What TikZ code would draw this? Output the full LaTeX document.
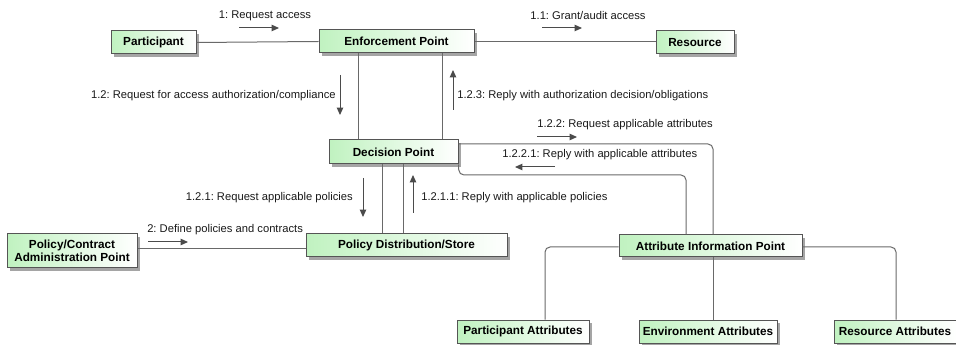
\documentclass[tikz,border=0pt]{standalone}
\usepackage{fontspec}
\setmainfont{Liberation Sans}
\usetikzlibrary{arrows.meta,shadows}
\frenchspacing
\definecolor{boxline}{RGB}{85,85,85}
\definecolor{wire}{RGB}{105,105,105}
\definecolor{arrowgray}{RGB}{75,75,75}
\definecolor{boxgreen}{RGB}{192,242,192}
\definecolor{shadowgray}{RGB}{165,165,165}
\tikzset{
  box/.style={draw=boxline, line width=0.75pt, left color=boxgreen, right color=white,
    font=\bfseries\fontsize{8.8}{9.8}\selectfont, inner sep=0pt, align=center,
    drop shadow={shadow xshift=1.9pt, shadow yshift=-1.9pt, fill=shadowgray, opacity=1}},
  wire/.style={draw=wire, line width=0.75pt, rounded corners=3.75pt},
  msg/.style={draw=arrowgray, line width=0.75pt, -{Triangle[length=5.5pt,width=4.8pt]}},
  lbl/.style={font=\fontsize{8.4}{10}\selectfont, inner sep=0pt, text=black!90},
}
\begin{document}
\begin{tikzpicture}[x=0.75pt, y=-0.75pt]
\useasboundingbox (0,0) rectangle (956,345);

% components
\node[box, minimum width=63.75pt,  minimum height=17.25pt] (part) at (153.5,42.5) {Participant};
\node[box, minimum width=116.25pt, minimum height=17.25pt] (ep)   at (396.5,41.5) {Enforcement Point};
\node[box, minimum width=58.5pt,   minimum height=17.25pt] (res)  at (695,42.5)   {Resource};
\node[box, minimum width=96.75pt,  minimum height=18pt]    (dp)   at (393.5,152)  {Decision Point};
\node[box, minimum width=150.75pt, minimum height=17.25pt] (pds)  at (406.5,245.5) {Policy Distribution/Store};
\node[box, minimum width=97.5pt,   minimum height=25.5pt]  (pcap) at (72,251) {Policy/Contract\\Administration Point};
\node[box, minimum width=137.25pt, minimum height=16.5pt]  (aip)  at (710.5,246) {Attribute Information Point};
\node[box, minimum width=99pt,     minimum height=17.25pt] (pa)   at (523,331.5) {Participant Attributes};
\node[box, minimum width=103.5pt,  minimum height=17.25pt] (ea)   at (708,331.5) {Environment Attributes};
\node[box, minimum width=91.5pt,   minimum height=17.25pt] (ra)   at (895,331.5) {Resource Attributes};

% links
\draw[wire] (part.east) -- (ep.west);
\draw[wire] (ep.east) -- (res.west |- ep.east);
\draw[wire] (ep.south -| 358,0) -- (dp.north -| 358,0);
\draw[wire] (ep.south -| 442,0) -- (dp.north -| 442,0);
\draw[wire] (dp.south -| 382,0) -- (pds.north -| 382,0);
\draw[wire] (dp.south -| 403,0) -- (pds.north -| 403,0);
\draw[wire] (pcap.east |- 0,249) -- (pds.west |- 0,249);
\draw[wire] (dp.east |- 0,144) -- (713,144) -- (aip.north -| 713,0);
\draw[wire] (dp.south east) -- (459,175) -- (686,175) -- (aip.north -| 686,0);
\draw[wire] (aip.west |- 0,247) -- (545,247) -- (pa.north -| 545,0);
\draw[wire] (aip.south -| 713,0) -- (ea.north -| 713,0);
\draw[wire] (aip.east |- 0,247) -- (896,247) -- (ra.north -| 896,0);

% messages
\draw[msg] (239,28) -- (279,28);
\node[lbl] (m1) at (265,16) {1: Request access};
\draw[msg] (542,28) -- (582,28);
\node[lbl] (m11) at (588,16) {1.1: Grant/audit access};
\draw[msg] (340,75) -- (340,115);
\node[lbl, anchor=east] (m12) at (336,96) {1.2: Request for access authorization/compliance};
\draw[msg] (453,110) -- (453,70);
\node[lbl, anchor=west] (m123) at (457,96) {1.2.3: Reply with authorization decision/obligations};
\draw[msg] (537,137) -- (577,137);
\node[lbl, anchor=west] (m122) at (537,125) {1.2.2: Request applicable attributes};
\draw[msg] (555,167) -- (515,167);
\node[lbl, anchor=west] (m1221) at (502,155) {1.2.2.1: Reply with applicable attributes};
\draw[msg] (363,178) -- (363,217);
\node[lbl, anchor=east] (m121) at (353,198) {1.2.1: Request applicable policies};
\draw[msg] (413,213) -- (413,175);
\node[lbl, anchor=west] (m1211) at (421,198) {1.2.1.1: Reply with applicable policies};
\draw[msg] (148,242) -- (188,242);
\node[lbl, anchor=west] (m2) at (147,230) {2: Define policies and contracts};
\end{tikzpicture}
\end{document}
